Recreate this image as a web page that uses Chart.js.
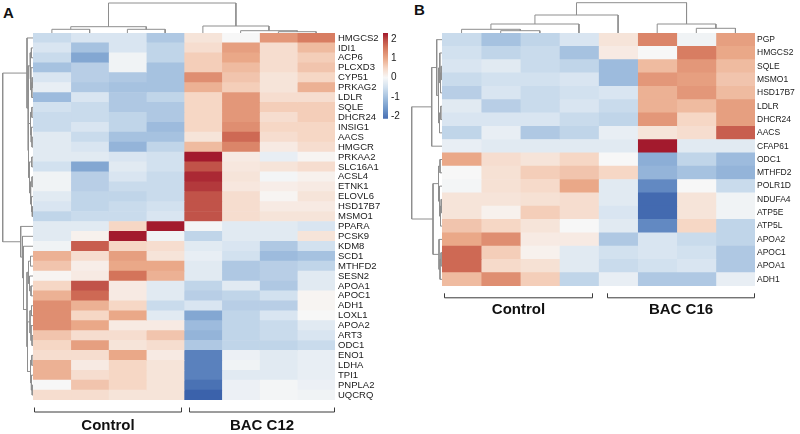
<!DOCTYPE html>
<html>
<head>
<meta charset="utf-8">
<script src="https://cdn.jsdelivr.net/npm/chart.js@4.4.1/dist/chart.umd.min.js"></script>
<style>
  body { margin: 0; width: 800px; height: 434px; position: relative; background: #fff; overflow: hidden;
         font-family: 'Liberation Sans', Arial, sans-serif; }
  canvas { position: absolute; }
  .tag { position: absolute; font-weight: bold; font-size: 15px; line-height: 15px; color: #111; }
</style>
</head>
<body>
<div class="tag" style="left:3px;top:5px">A</div>
<div class="tag" style="left:414px;top:2px">B</div>

<canvas id="topA" width="302" height="33" style="left:33px;top:0"></canvas>
<canvas id="leftA" width="33" height="367" style="left:0;top:33px"></canvas>
<canvas id="heatA" width="350" height="401" style="left:33px;top:33px"></canvas>
<canvas id="scaleA" width="30" height="95" style="left:381px;top:28px"></canvas>

<canvas id="topB" width="313" height="33" style="left:442px;top:0"></canvas>
<canvas id="leftB" width="33" height="253" style="left:409px;top:33px"></canvas>
<canvas id="heatB" width="358" height="401" style="left:442px;top:33px"></canvas>

<script>
// ---- panel A data ----
const genesA = ['HMGCS2', 'IDI1', 'ACP6', 'PLCXD3', 'CYP51', 'PRKAG2', 'LDLR', 'SQLE', 'DHCR24', 'INSIG1',
  'AACS', 'HMGCR', 'PRKAA2', 'SLC16A1', 'ACSL4', 'ETNK1', 'ELOVL6', 'HSD17B7', 'MSMO1', 'PPARA',
  'PCSK9', 'KDM8', 'SCD1', 'MTHFD2', 'SESN2', 'APOA1', 'APOC1', 'ADH1', 'LOXL1', 'APOA2',
  'ART3', 'ODC1', 'ENO1', 'LDHA', 'TPI1', 'PNPLA2', 'UQCRQ'];

// z-scores, one row per gene, 4 control then 4 treated samples
const cellsA = [
  [-0.6, -0.4, -0.4, -0.9, 0.3, 0.0, 1.2, 1.5],
  [-0.4, -1.0, -0.4, -0.7, 0.4, 1.1, 0.4, 0.8],
  [-0.6, -1.4, -0.1, -0.7, 0.6, 1.0, 0.4, 0.6],
  [-1.0, -0.8, -0.1, -1.0, 0.6, 0.8, 0.4, 0.7],
  [-0.4, -0.8, -0.9, -1.0, 1.3, 0.7, 0.3, 0.5],
  [-0.2, -0.9, -1.0, -1.0, 0.9, 0.6, 0.3, 0.9],
  [-1.1, -0.4, -0.9, -0.7, 0.5, 1.2, 0.4, 0.4],
  [-0.5, -0.6, -0.9, -0.9, 0.5, 1.2, 0.6, 0.6],
  [-0.6, -0.6, -0.7, -0.9, 0.5, 1.2, 0.4, 0.6],
  [-0.6, -0.4, -0.7, -1.1, 0.5, 1.3, 0.5, 0.5],
  [-0.3, -0.6, -1.0, -1.0, 0.3, 1.7, 0.4, 0.5],
  [-0.3, -0.4, -1.2, -0.7, 0.8, 1.4, 0.2, 0.4],
  [-0.3, -0.3, -0.4, -0.5, 2.3, 0.2, -0.2, 0.05],
  [-0.5, -1.4, -0.3, -0.5, 1.9, 0.25, 0.3, 0.4],
  [-0.1, -0.8, -0.4, -0.6, 2.2, 0.3, -0.05, 0.1],
  [-0.1, -0.8, -0.6, -0.6, 2.1, 0.25, 0.15, 0.2],
  [-0.3, -0.7, -0.7, -0.6, 1.9, 0.4, 0.05, 0.3],
  [-0.4, -0.7, -0.6, -0.5, 1.9, 0.4, 0.2, 0.2],
  [-0.7, -0.6, -0.6, -0.4, 1.9, 0.4, 0.3, 0.3],
  [-0.3, -0.3, 0.5, 2.3, -0.05, -0.3, -0.3, -0.4],
  [-0.3, 0.1, 2.3, -0.1, -0.7, -0.3, -0.3, 0.3],
  [-0.1, 1.8, 0.5, 0.4, -0.3, -0.4, -0.9, -0.5],
  [0.9, 0.4, 1.1, 0.3, -0.2, -0.5, -1.1, -1.0],
  [0.7, 0.15, 1.0, 1.0, -0.3, -0.9, -0.8, -0.7],
  [0.05, 0.2, 1.6, 0.9, -0.3, -0.9, -0.8, -0.3],
  [0.5, 1.9, 0.2, -0.3, -0.7, -0.3, -0.9, -0.3],
  [0.9, 1.7, 0.2, -0.3, -0.8, -0.7, -0.5, 0.05],
  [1.3, 0.9, 0.5, -0.6, -0.4, -0.8, -0.8, 0.05],
  [1.3, 0.5, 1.0, -0.3, -1.4, -0.7, -0.4, 0.0],
  [1.3, 1.0, 0.2, 0.2, -1.1, -0.7, -0.6, -0.3],
  [0.7, 0.4, 0.4, 0.7, -1.2, -0.7, -0.6, -0.4],
  [0.5, 1.1, 0.3, 0.4, -0.9, -0.7, -0.7, -0.6],
  [0.4, 0.4, 1.0, 0.2, -1.9, -0.15, -0.3, -0.2],
  [0.9, 0.2, 0.5, 0.3, -1.9, -0.1, -0.3, -0.2],
  [0.9, 0.4, 0.5, 0.3, -1.9, -0.3, -0.3, -0.2],
  [0.0, 0.7, 0.5, 0.3, -2.1, -0.15, -0.05, -0.15],
  [0.4, 0.4, 0.3, 0.3, -2.3, -0.15, -0.05, -0.1]
];
const groupsA = ['Control', 'BAC C12'];

// dendrograms: leaf = index, node = [height, left, right]
const colTreeA = [30, [6.3, [3.7, 0, 1], [3.7, 2, 3]], [7, 4, [2.3, 5, [1.3, 6, 7]]]];
const rowTreeA = [30.3,
  [6, 0, [5, [3, [1.6, 1, 2], [2.2, 3, [1.2, [0.8, 4, 5], 6]]],
          [4.5, [2.5, [1.2, 7, 8], [1.8, 9, [1.0, 10, 11]]],
                [3.5, [1.2, 12, 13], [2.4, [1.0, 14, 15], [1.5, 16, [0.7, 17, 18]]]]]]],
  [12.3, 19, [10.5, 20, [9.5, 21,
    [6, [4.5, [2.5, 22, 23], [3.5, 24, [2, 25, 26]]],
        [5.5, [3, [1.5, 27, 28], [2, 29, [1, 30, 31]]],
              [2.5, [1.2, 32, 33], [1.6, 34, [0.8, 35, 36]]]]]]]]];

// ---- panel B data ----
const genesB = ['PGP', 'HMGCS2', 'SQLE', 'MSMO1', 'HSD17B7', 'LDLR', 'DHCR24', 'AACS', 'CFAP61', 'ODC1',
  'MTHFD2', 'POLR1D', 'NDUFA4', 'ATP5E', 'ATP5L', 'APOA2', 'APOC1', 'APOA1', 'ADH1'];

const cellsB = [
  [-0.6, -1.0, -0.7, -0.4, 0.3, 1.4, -0.1, 1.1],
  [-0.5, -0.7, -0.6, -1.0, 0.2, 0.0, 1.5, 1.0],
  [-0.4, -0.3, -0.6, -0.7, -1.1, 0.8, 1.2, 0.8],
  [-0.6, -0.5, -0.5, -0.4, -1.1, 1.2, 1.1, 0.7],
  [-0.8, -0.4, -0.6, -0.5, -0.4, 0.9, 1.2, 0.8],
  [-0.3, -0.8, -0.6, -0.4, -0.6, 0.9, 0.8, 1.1],
  [-0.4, -0.4, -0.4, -0.6, -0.7, 1.2, 0.5, 1.1],
  [-0.7, -0.2, -0.9, -0.7, -0.2, 0.3, 0.4, 1.8],
  [-0.2, -0.3, -0.3, -0.3, -0.3, 2.3, -0.3, -0.3],
  [1.0, 0.4, 0.3, 0.5, 0.0, -1.3, -0.7, -1.1],
  [0.0, 0.35, 0.6, 0.7, 0.5, -1.2, -1.0, -1.2],
  [-0.05, 0.35, 0.45, 1.0, -0.3, -1.8, 0.0, -0.6],
  [0.3, 0.3, 0.35, 0.4, -0.3, -2.2, 0.3, -0.1],
  [0.3, 0.1, 0.6, 0.4, -0.4, -2.2, 0.3, -0.1],
  [0.7, 0.5, 0.3, 0.0, -0.3, -1.8, 0.5, -0.7],
  [1.0, 1.3, 0.2, 0.2, -0.9, -0.4, -0.6, -0.7],
  [1.7, 0.6, 0.1, -0.3, -0.5, -0.4, -0.5, -0.9],
  [1.7, 0.45, 0.35, -0.3, -0.6, -0.5, -0.4, -0.9],
  [0.8, 1.3, 0.6, -0.7, -0.2, -0.9, -0.9, -0.2]
];
const groupsB = ['Control', 'BAC C16'];

const colTreeB = [30.3, [18, [9, [3.7, 0, [2.3, 1, 2]], 3], 4], [9, 5, [4.7, 6, 7]]];
const rowTreeB = [30.3,
  [10.3, [5.3, 0, [3.5, [2.2, 1, [1.5, [0.8, 2, 3], 4]], [2.5, [1.2, 5, 6], 7]]], 8],
  [9, [3.5, [2, 9, 10], [2.5, 11, [1.5, [0.8, 12, 13], 14]]],
      [3, 15, [2, [1, 16, 17], 18]]]];

// colour key
const legendTicks = [-2, -1, 0, 1, 2];
const legendMin = -2.13;
const legendMax = 2.32;

// ---- colours ----
const stopVals = [-2.3, -1.6, -1.0, -0.5, 0, 0.5, 1.0, 1.6, 2.0, 2.3];
const stopCols = ['#3b62ab', '#7199cb', '#a6c2e0', '#d2e1ef', '#f7f7f7', '#f6d7c5', '#eaa888', '#d4745a', '#bb4843', '#a31a2d'];

function hexRgb(h) {
  return [1, 3, 5].map(i => parseInt(h.slice(i, i + 2), 16));
}

function cellColor(v) {
  if (v <= stopVals[0]) return stopCols[0];
  for (let i = 1; i < stopVals.length; i++) {
    if (v <= stopVals[i]) {
      const t = (v - stopVals[i - 1]) / (stopVals[i] - stopVals[i - 1]);
      const a = hexRgb(stopCols[i - 1]), b = hexRgb(stopCols[i]);
      const c = a.map((x, k) => Math.round(x + (b[k] - x) * t));
      return `rgb(${c[0]},${c[1]},${c[2]})`;
    }
  }
  return stopCols[stopCols.length - 1];
}

const FONT = "'Liberation Sans', Arial, sans-serif";
const noUi = { legend: { display: false }, tooltip: { enabled: false } };

// brackets + group names under the heatmap
const groupBrackets = {
  id: 'groupBrackets',
  afterDraw(chart, args, opts) {
    const { ctx, chartArea, scales: { x } } = chart;
    const y = chartArea.bottom + opts.gap;
    ctx.save();
    ctx.strokeStyle = '#3a3a3a';
    ctx.lineWidth = 1;
    ctx.fillStyle = '#111';
    ctx.font = `bold 15px ${FONT}`;
    ctx.textAlign = 'center';
    ctx.textBaseline = 'middle';
    opts.groups.forEach((name, i) => {
      const [a, b] = opts.spans[i];
      const x0 = Math.round(x.getPixelForValue(a)) + 0.5;
      const x1 = Math.round(x.getPixelForValue(b)) + 0.5;
      ctx.beginPath();
      ctx.moveTo(x0, y - 4);
      ctx.lineTo(x0, y + 0.5);
      ctx.lineTo(x1, y + 0.5);
      ctx.lineTo(x1, y - 4);
      ctx.stroke();
      ctx.fillText(name, (x0 + x1) / 2, y + opts.textGap);
    });
    ctx.restore();
  }
};

function heatChart(id, genes, cells, o) {
  const nCols = cells[0].length;
  const datasets = [];
  for (let j = 0; j < nCols; j++) {
    datasets.push({
      data: genes.map(() => 1),
      backgroundColor: cells.map(r => cellColor(r[j])),
      borderWidth: 0,
      barPercentage: 1,
      categoryPercentage: 1
    });
  }
  new Chart(document.getElementById(id), {
    type: 'bar',
    data: { labels: genes, datasets },
    options: {
      indexAxis: 'y',
      responsive: false,
      animation: false,
      events: [],
      layout: { padding: { bottom: o.bottom } },
      plugins: { ...noUi, groupBrackets: { groups: o.groups, spans: o.spans, gap: o.gap, textGap: o.textGap } },
      scales: {
        x: { stacked: true, min: 0, max: nCols, display: false },
        y: {
          stacked: true,
          position: 'right',
          grid: { display: false, drawTicks: false },
          border: { display: false },
          ticks: { autoSkip: false, padding: o.pad, color: '#1b1b1b', font: { family: o.family, size: o.size } },
          afterFit: s => { s.width = o.labelW; s.paddingTop = 0; s.paddingBottom = 0; }
        }
      }
    },
    plugins: [groupBrackets]
  });
}

function dendroChart(id, tree, nLeaves, hMax, onTop) {
  const datasets = [];
  function walk(n) {
    if (typeof n === 'number') return { pos: n + 0.5, h: 0 };
    const [h, a, b] = n;
    const l = walk(a), r = walk(b);
    const seg = [[l.pos, l.h], [l.pos, h], [r.pos, h], [r.pos, r.h]];
    datasets.push({
      data: seg.map(([p, v]) => onTop ? { x: p, y: v } : { x: v, y: p }),
      showLine: true,
      pointRadius: 0,
      borderColor: '#8e8e8e',
      borderWidth: 1,
      tension: 0,
      clip: false
    });
    return { pos: (l.pos + r.pos) / 2, h };
  }
  walk(tree);
  const leafAxis = { type: 'linear', min: 0, max: nLeaves, display: false };
  const hAxis = { type: 'linear', min: 0, max: hMax, display: false };
  new Chart(document.getElementById(id), {
    type: 'scatter',
    data: { datasets },
    options: {
      responsive: false,
      animation: false,
      events: [],
      plugins: noUi,
      scales: onTop
        ? { x: leafAxis, y: hAxis }
        : { x: { ...hAxis, reverse: true }, y: { ...leafAxis, reverse: true } }
    }
  });
}

// panel A
dendroChart('topA', colTreeA, 8, 33, true);
dendroChart('leftA', rowTreeA, genesA.length, 33, false);
heatChart('heatA', genesA, cellsA, {
  bottom: 34, labelW: 48, pad: 3, size: 9.5, family: FONT,
  groups: groupsA, spans: [[0.02, 3.92], [4.12, 7.97]], gap: 11.5, textGap: 14
});

// colour key for A
new Chart(document.getElementById('scaleA'), {
  type: 'bar',
  data: {
    labels: ['z'],
    datasets: [{
      data: [[legendMin, legendMax]],
      barPercentage: 1,
      categoryPercentage: 1,
      borderWidth: 0,
      backgroundColor: ctx => {
        const { chart } = ctx;
        if (!chart.chartArea) return '#ccc';
        const y = chart.scales.y;
        const top = y.getPixelForValue(legendMax), bot = y.getPixelForValue(legendMin);
        const g = chart.ctx.createLinearGradient(0, bot, 0, top);
        stopVals.forEach((v, i) => {
          const t = (v - legendMin) / (legendMax - legendMin);
          if (t >= 0 && t <= 1) g.addColorStop(t, stopCols[i]);
        });
        g.addColorStop(0, cellColor(legendMin));
        g.addColorStop(1, cellColor(legendMax));
        return g;
      }
    }]
  },
  options: {
    responsive: false,
    animation: false,
    events: [],
    layout: { padding: { left: 2, top: 5, bottom: 4.3 } },
    plugins: noUi,
    scales: {
      x: { display: false },
      y: {
        position: 'right',
        min: legendMin,
        max: legendMax,
        grid: { display: false, drawTicks: false },
        border: { display: false },
        afterBuildTicks: s => { s.ticks = legendTicks.map(v => ({ value: v })); },
        ticks: { padding: 3, color: '#222', font: { family: FONT, size: 10 } },
        afterFit: s => { s.width = 23; s.paddingTop = 0; s.paddingBottom = 0; }
      }
    }
  }
});

// panel B
dendroChart('topB', colTreeB, 8, 33, true);
dendroChart('leftB', rowTreeB, genesB.length, 33, false);
heatChart('heatB', genesB, cellsB, {
  bottom: 148, labelW: 45, pad: 2, size: 8.5, family: FONT,
  groups: groupsB, spans: [[0.06, 3.84], [4.21, 7.98]], gap: 11.3, textGap: 12.7
});
</script>
</body>
</html>
